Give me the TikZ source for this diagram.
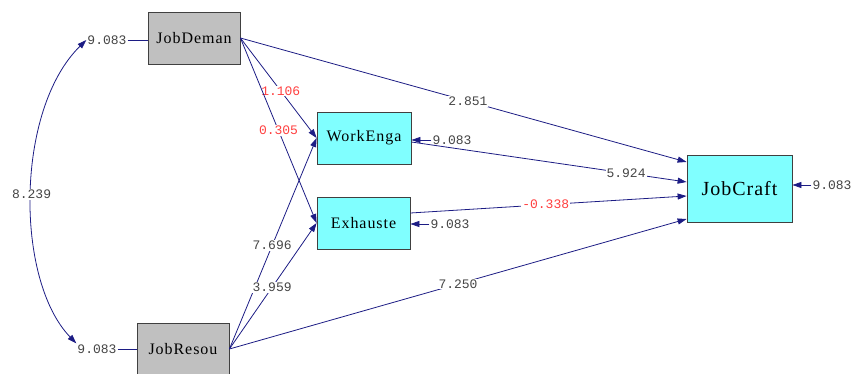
\documentclass[tikz,border=0pt]{standalone}
\usepackage{fontspec}
\setmainfont{Liberation Serif}
\setmonofont{Liberation Mono}
\usetikzlibrary{arrows.meta}
\definecolor{pathline}{HTML}{1C1C84}
\definecolor{estgray}{HTML}{454545}
\definecolor{estred}{HTML}{FF4040}
\definecolor{obsfill}{HTML}{C0C0C0}
\definecolor{endofill}{HTML}{80FFFF}
\definecolor{boxline}{HTML}{404040}

\begin{document}
\begin{tikzpicture}[x=1pt,y=-1pt,
var/.style={draw=boxline,fill=#1,line width=.8pt,minimum width=92pt,minimum height=52pt,inner sep=0pt,font=\fontsize{16}{18}\selectfont\addfontfeature{LetterSpace=6}},
link/.style={-{Triangle[length=9pt,width=6pt]},line width=.8pt,draw=pathline},
est/.style={fill=white,inner sep=1pt,text=estgray,font=\ttfamily\fontsize{13}{14}\selectfont},
neg/.style={est,text=estred}]
\useasboundingbox (0,0) rectangle (853,374);
% variables
\node[var=obsfill] (JobDeman) at (194,38) {JobDeman};
\node[var=obsfill] (JobResou) at (183,349) {JobResou};
\node[var=endofill,minimum width=94pt] (WorkEnga) at (364,138) {WorkEnga};
\node[var=endofill,minimum width=93pt] (Exhauste) at (363.5,223) {Exhauste};
\node[var=endofill,minimum width=105pt,minimum height=67pt,font=\fontsize{20}{22}\selectfont\addfontfeature{LetterSpace=5}] (JobCraft) at (739.5,188.5) {JobCraft};
% variances
\node[est] (eDeman) at (107,40) {9.083};
\node[est] (eResou) at (97,349) {9.083};
\node[est] (eWork) at (452,140) {9.083};
\node[est] (eExh) at (450,224) {9.083};
\node[est] (eCraft) at (832,185) {9.083};
\draw[line width=.8pt,draw=pathline] (eDeman.east) -- (eDeman.east -| JobDeman.west);
\draw[line width=.8pt,draw=pathline] (eResou.east) -- (eResou.east -| JobResou.west);
\draw[link] (eWork.west) -- (eWork.west -| WorkEnga.east);
\draw[link] (eExh.west) -- (eExh.west -| Exhauste.east);
\draw[link] (eCraft.west) -- (eCraft.west -| JobCraft.east);
\draw[link,{Triangle[length=9pt,width=6pt]}-{Triangle[length=9pt,width=6pt]}] (eDeman.west) .. controls (15,110) and (15,280) .. (eResou.north west) node[est,pos=.5]{8.239};
% paths
\draw[link] (JobDeman.east) -- node[est,pos=.51]{2.851} ([yshift=26.5pt]JobCraft.west);
\draw[link] (JobDeman.east) -- node[neg,pos=.53]{1.106} (WorkEnga.west);
\draw[link] (JobDeman.east) -- node[neg,pos=.5]{0.305} (Exhauste.west);
\draw[link] (JobResou.east) -- node[est,pos=.49]{7.696} (WorkEnga.west);
\draw[link] (JobResou.east) -- node[est,pos=.49]{3.959} (Exhauste.west);
\draw[link] (JobResou.east) -- node[est,pos=.5]{7.250} ([yshift=-30.5pt]JobCraft.west);
\draw[link] ([yshift=-4pt]WorkEnga.east) -- node[est,pos=.78]{5.924} ([yshift=6.5pt]JobCraft.west);
\draw[link] ([yshift=10pt]Exhauste.east) -- node[neg,pos=.49]{-0.338} ([yshift=-7.5pt]JobCraft.west);
\end{tikzpicture}
\end{document}
